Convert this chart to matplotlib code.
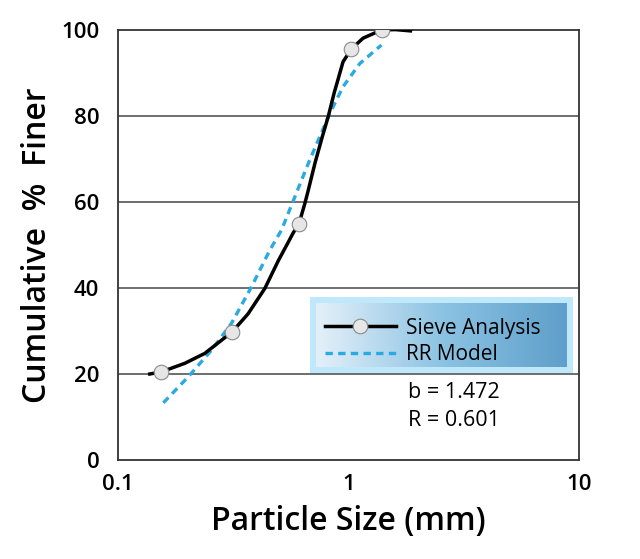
import numpy as np
import matplotlib
matplotlib.use('Agg')
import matplotlib.pyplot as plt
from matplotlib.patches import Rectangle
from matplotlib.colors import LinearSegmentedColormap

plt.rcParams['font.family'] = ['Open Sans', 'DejaVu Sans']

# Sieve analysis curve
sieve_x = [0.138, 0.155, 0.196, 0.239, 0.314, 0.368, 0.435, 0.497, 0.545, 0.577,
           0.612, 0.648, 0.670, 0.717, 0.77, 0.82, 0.87, 0.903, 0.949, 1.032,
           1.159, 1.392, 1.6, 1.86]
sieve_y = [20.0, 20.5, 22.5, 24.8, 29.8, 34.0, 39.9, 46.3, 50.3, 52.8,
           55.0, 59.6, 62.6, 69.0, 75.0, 80.0, 85.5, 88.5, 92.6, 95.6,
           98.1, 100.0, 100.1, 99.8]
# measured sieve points (markers)
pts_x = [0.155, 0.314, 0.612, 1.032, 1.40]
pts_y = [20.5, 29.8, 55.0, 95.6, 100.0]

# Rosin-Rammler model curve
rr_x = [0.158, 0.203, 0.256, 0.312, 0.381, 0.457, 0.514, 0.568, 0.681, 0.832,
        0.949, 1.122, 1.392]
rr_y = [13.3, 19.4, 25.6, 31.8, 40.3, 48.8, 53.5, 59.3, 69.8, 80.6,
        86.8, 92.2, 96.5]

b_value = 1.472
r_value = 0.601

fig = plt.figure(figsize=(6.4, 5.59), dpi=100)
ax = fig.add_axes([0.1836, 0.1771, 0.7211, 0.7692])

ax.set_xscale('log')
ax.set_xlim(0.1, 10)
ax.set_ylim(0, 100)
ax.set_xticks([0.1, 1, 10])
ax.set_xticklabels(['0.1', '1', '10'])
ax.set_yticks([0, 20, 40, 60, 80, 100])
ax.minorticks_off()
ax.tick_params(length=0, labelsize=16)
ax.tick_params(axis='y', pad=13)
ax.tick_params(axis='x', pad=10)
for lab in ax.get_xticklabels() + ax.get_yticklabels():
    lab.set_fontweight('semibold')

for yv in [20, 40, 60, 80]:
    ax.axhline(yv, color='#555555', lw=1.2, zorder=1)
for s in ax.spines.values():
    s.set_color('#333333')
    s.set_linewidth(1.3)

line, = ax.plot(sieve_x, sieve_y, color='black', lw=2.5, zorder=3,
                solid_joinstyle='round')
ax.plot(pts_x, pts_y, ls='none', marker='o', ms=10.5, mfc='#e6e6e6',
        mec='#8a8a8a', mew=0.8, zorder=4)
rr, = ax.plot(rr_x, rr_y, color='#29aae1', lw=2.4, ls=(0, (2.2, 1.6)), zorder=2)

# legend background with gradient
ax.add_patch(Rectangle((0.417, 0.203), 0.569, 0.176, transform=ax.transAxes,
                       facecolor='#bfe9fa', edgecolor='none', zorder=5))
grad = LinearSegmentedColormap.from_list('g', ['#e4f0f9', '#8cc3e3', '#5f9fca'])
ax.imshow(np.linspace(0, 1, 256).reshape(1, -1), cmap=grad, aspect='auto',
          extent=[0.430, 0.973, 0.217, 0.365], transform=ax.transAxes, zorder=6)

handle1 = plt.Line2D([], [], color='black', lw=2.5, marker='o', ms=10.5,
                     mfc='#e6e6e6', mec='#8a8a8a', mew=0.8)
leg = ax.legend([handle1, rr], ['Sieve Analysis', 'RR Model'], loc='center left',
                bbox_to_anchor=(0.449, 0.276), frameon=False, fontsize=15,
                handlelength=3.4, handletextpad=0.5, labelspacing=0.25,
                borderpad=0, borderaxespad=0, markerscale=1)
leg.set_zorder(7)

ax.text(0.630, 0.157, 'b = %.3f' % b_value, transform=ax.transAxes,
        fontsize=15.5, va='center', ha='left')
ax.text(0.630, 0.092, 'R = %.3f' % r_value, transform=ax.transAxes,
        fontsize=15.5, va='center', ha='left')

ax.set_xlabel('Particle Size (mm)', fontsize=23, fontweight='semibold', labelpad=7)
ax.set_ylabel('Cumulative  %  Finer', fontsize=23, fontweight='semibold', labelpad=5)

fig.savefig('out.png', dpi=100)
